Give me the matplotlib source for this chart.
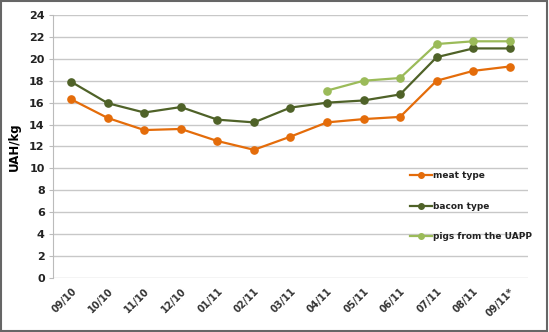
import matplotlib
matplotlib.use("Agg")
import matplotlib.pyplot as plt
import numpy as np

months = ["09/10", "10/10", "11/10", "12/10", "01/11", "02/11", "03/11",
          "04/11", "05/11", "06/11", "07/11", "08/11", "09/11*"]
meat_type = [16.3, 14.6, 13.5, 13.6, 12.5, 11.7, 12.9, 14.2, 14.5, 14.7, 18.0, 18.9, 19.3]
bacon_type = [17.9, 15.95, 15.1, 15.6, 14.45, 14.2, 15.55, 16.0, 16.2, 16.75, 20.15, 20.95, 20.95]
uapp = [np.nan] * 7 + [17.1, 18.0, 18.25, 21.35, 21.6, 21.6]

c_meat = "#E46C0A"
c_bacon = "#4F6228"
c_uapp = "#9BBB59"

plt.rcParams['font.family'] = ['DejaVu Sans']
fig = plt.figure(figsize=(5.49, 3.32), dpi=100)
ax = fig.add_axes([0.0965, 0.1627, 0.8652, 0.7921])

x = np.arange(len(months))
ax.plot(x, meat_type, color=c_meat, lw=1.6, marker='o', ms=5.2, label="meat type", zorder=3)
ax.plot(x, bacon_type, color=c_bacon, lw=1.6, marker='o', ms=5.2, label="bacon type", zorder=3)
ax.plot(x, uapp, color=c_uapp, lw=1.6, marker='o', ms=5.2, label="pigs from the UAPP", zorder=3)

ax.set_xlim(-0.5, len(months) - 0.5)
ax.set_ylim(0, 24)
ax.set_yticks(np.arange(0, 25, 2))
ax.set_xticks(x)
ax.set_xticklabels(months, rotation=45, ha='right', rotation_mode='anchor',
                   fontsize=7, fontweight='bold', color='#333333')
for lbl in ax.get_yticklabels():
    lbl.set_fontsize(8)
    lbl.set_fontweight('bold')
    lbl.set_color('#222222')
ax.tick_params(axis='x', length=0, pad=6)
ax.tick_params(axis='y', length=3, color='#BBBBBB', pad=3)
ax.yaxis.grid(True, color='#C8C8C8', lw=1.0)
ax.set_axisbelow(True)
for s in ['top', 'right', 'bottom']:
    ax.spines[s].set_visible(False)
ax.spines['left'].set_color('#BBBBBB')
ax.set_ylabel("UAH/kg", fontsize=8.5, fontweight='bold', labelpad=6)

leg = ax.legend(loc='upper left', bbox_to_anchor=(0.745, 0.42), frameon=False,
                fontsize=6.5, labelspacing=2.4, handlelength=2.4, handletextpad=0.15,
                borderaxespad=0)
for t in leg.get_texts():
    t.set_fontweight('bold')
    t.set_color('#222222')
for h in leg.get_lines():
    h.set_markersize(4)

fig.patches.append(plt.Rectangle((0.002, 0.003), 0.995, 0.993, transform=fig.transFigure,
                                 fill=False, edgecolor='#666666', lw=1.5))
fig.savefig("out.png", dpi=100)
